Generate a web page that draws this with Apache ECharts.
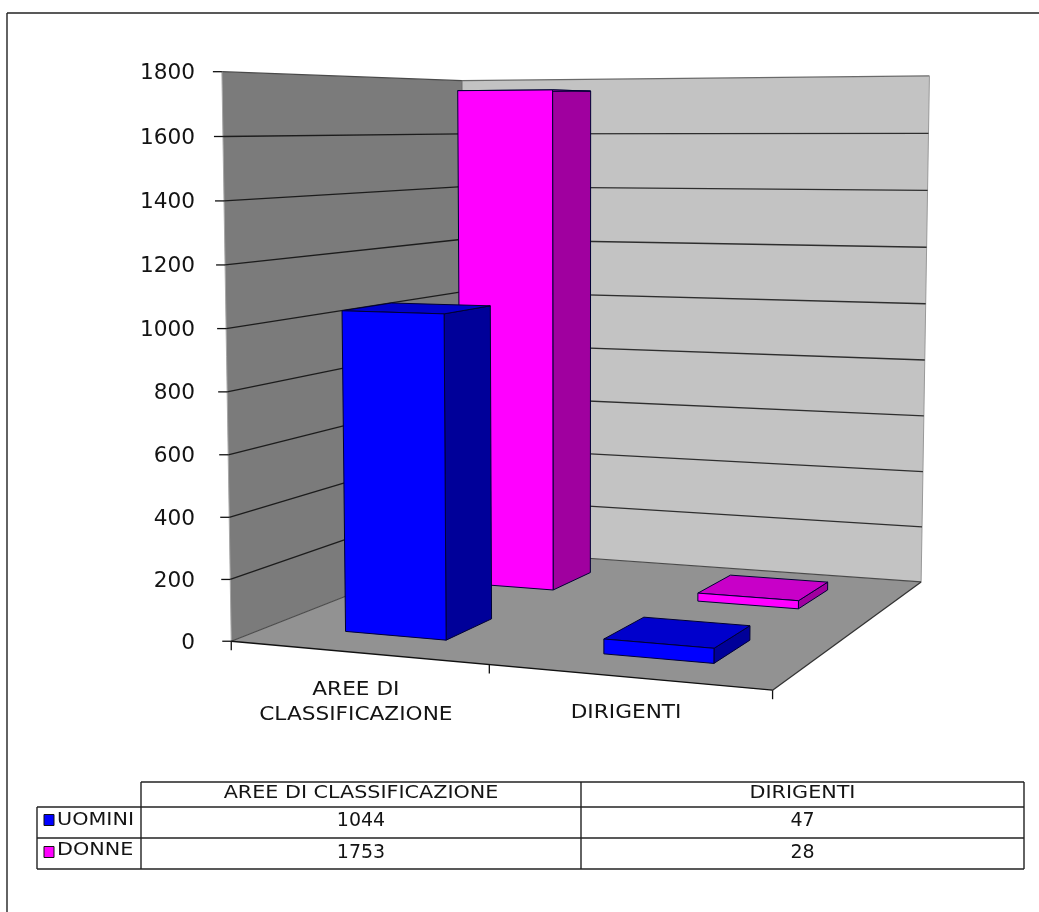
<!DOCTYPE html>
<html>
<head>
<meta charset="utf-8">
<title>Aree di classificazione e dirigenti</title>
<style>html,body{margin:0;padding:0;background:#fff}#chart{width:1039px;height:912px}</style>
<script src="https://cdn.jsdelivr.net/npm/echarts@6/dist/echarts.min.js"></script>
</head>
<body>
<div id="chart"></div>
<script>
// Chart data
const categories = ['AREE DI CLASSIFICAZIONE', 'DIRIGENTI'];
const axisCategoryLabels = ['AREE DI\nCLASSIFICAZIONE', 'DIRIGENTI'];
const uomini = [1044, 47];
const donne = [1753, 28];
const tickValues = [0, 200, 400, 600, 800, 1000, 1200, 1400, 1600, 1800];

// Bar footprint inside each category cell and each depth row (fractions of a cell)
const barStart = 0.3, barEnd = 0.7;
const rowDepth = { UOMINI: 0.25, DONNE: 0.75 };
const barDepth = 0.2;

// Camera calibration of the plotting box: [x, y, z, screenX, screenY]
const cameraAnchors = [
  [0, 0, 0, 232, 642], [0, 1, 0, 221, 71], [1, 0, 0, 772, 690],
  [0, 0, 1, 463, 549], [0, 1, 1, 463, 81], [1, 0, 1, 922, 582], [1, 1, 1, 929, 76],
  [0, 1000 / 1800, 0, 226, 329], [0, 400 / 1800, 0, 230, 517]
];

const FONT = '"DejaVu Sans", Verdana, sans-serif';
const INK = '#141414';
const COLORS = {
  UOMINI: { front: '#0000ff', side: '#000099', top: '#0000cc' },
  DONNE: { front: '#ff00ff', side: '#a0009f', top: '#c800c8' }
};

// Least-squares fit of the 3x4 projective camera (last coefficient fixed at 1)
function fitCamera(anchors) {
  const n = 11, M = Array.from({ length: n }, () => new Array(n + 1).fill(0));
  const add = (row, rhs) => {
    for (let i = 0; i < n; i++) {
      for (let j = 0; j < n; j++) M[i][j] += row[i] * row[j];
      M[i][n] += row[i] * rhs;
    }
  };
  anchors.forEach(([x, y, z, u, v]) => {
    add([x, y, z, 1, 0, 0, 0, 0, -u * x, -u * y, -u * z], u);
    add([0, 0, 0, 0, x, y, z, 1, -v * x, -v * y, -v * z], v);
  });
  for (let c = 0; c < n; c++) {
    let p = c;
    for (let r = c + 1; r < n; r++) if (Math.abs(M[r][c]) > Math.abs(M[p][c])) p = r;
    [M[c], M[p]] = [M[p], M[c]];
    for (let r = 0; r < n; r++) {
      if (r === c) continue;
      const f = M[r][c] / M[c][c];
      for (let k = c; k <= n; k++) M[r][k] -= f * M[c][k];
    }
  }
  return M.map((row, i) => row[n] / row[i]);
}
const cam = fitCamera(cameraAnchors);

const flat = { left: 232, top: 72, width: 540, height: 570 };

// Category position and value go through the grid's axes, then through the camera
function project(api, cat, value, depth) {
  const p = api.coord([cat, value]);
  const x = (p[0] - flat.left) / flat.width;
  const y = (flat.top + flat.height - p[1]) / flat.height;
  const z = depth;
  const w = cam[8] * x + cam[9] * y + cam[10] * z + 1;
  return [
    (cam[0] * x + cam[1] * y + cam[2] * z + cam[3]) / w,
    (cam[4] * x + cam[5] * y + cam[6] * z + cam[7]) / w
  ];
}

const poly = (points, fill, stroke, lineWidth) => ({
  type: 'polygon', shape: { points },
  style: { fill, stroke: stroke || 'none', lineWidth: lineWidth || 1 }, silent: true
});
const line = (a, b, stroke, lineWidth) => ({
  type: 'line', shape: { x1: a[0], y1: a[1], x2: b[0], y2: b[1] },
  style: { stroke, lineWidth: lineWidth || 1, fill: 'none' }, silent: true
});
// Text placed through the element transform so it can be widened horizontally
const label = (text, x, y, size, align, widen) => ({
  type: 'text', silent: true, x, y, scaleX: widen || 1, scaleY: 1,
  style: { text, x: 0, y: 0, fill: INK, font: size + 'px ' + FONT, align: align || 'center', verticalAlign: 'middle', lineHeight: 25 }
});

const yMax = tickValues[tickValues.length - 1];
const xMax = categories.length;

// Walls and floor
function renderBox(params, api) {
  const P = (c, v, z) => project(api, c, v, z);
  const A = P(0, 0, 0), B = P(0, yMax, 0), C = P(0, 0, 1), D = P(0, yMax, 1);
  const E = P(xMax, 0, 0), F = P(xMax, 0, 1), G = P(xMax, yMax, 1);
  return {
    type: 'group',
    children: [
      poly([A, B, D, C], '#7b7b7b'),
      poly([C, D, G, F], '#c3c3c3'),
      poly([A, C, F, E], '#929292'),
      line(B, D, '#4a4a4a', 1.2), line(D, G, '#6a6a6a', 1.2), line(G, F, '#999999'),
      line(B, A, '#a8a8a8'), line(D, C, '#6a6a6a'),
      line(A, C, '#4a4a4a', 1.2), line(C, F, '#4a4a4a', 1.2),
      line(A, E, '#111111', 1.3), line(E, F, '#333333', 1.3)
    ]
  };
}

// One wall gridline, its axis tick and its label per value
function renderGrid(params, api) {
  const v = api.value(0);
  const a = project(api, 0, v, 0), b = project(api, 0, v, 1), c = project(api, xMax, v, 1);
  const children = [];
  if (v > 0 && v < yMax) children.push(line(a, b, '#1c1c1c', 1.3), line(b, c, '#2e2e2e', 1.3));
  children.push(line([a[0] - 9, a[1]], a, '#111111', 1.3));
  children.push(label(String(v), 195, a[1] + 2, 21, 'right', 1.03));
  return { type: 'group', children };
}

// Category ticks under the front floor edge, with their labels
function renderCategory(params, api) {
  const i = api.value(0);
  const children = [];
  const p = project(api, i, 0, 0);
  children.push(line(p, [p[0], p[1] + 9], '#111111', 1.3));
  if (i < xMax) {
    const q = project(api, i + 0.5, 0, 0);
    const text = axisCategoryLabels[i];
    const yCentre = text.indexOf('\n') >= 0 ? 703 : 713;
    children.push(label(text, q[0] - 1.5, yCentre, 19, 'center', 1.14));
  }
  return { type: 'group', children };
}

// A bar: side, top and front faces from the value held in the data
function renderBar(name) {
  return function (params, api) {
    const i = api.value(0), v = api.value(1);
    const x0 = i + barStart, x1 = i + barEnd;
    const z0 = rowDepth[name] - barDepth / 2, z1 = z0 + barDepth;
    const P = (c, val, z) => project(api, c, val, z);
    const col = COLORS[name];
    return {
      type: 'group',
      children: [
        poly([P(x1, 0, z0), P(x1, v, z0), P(x1, v, z1), P(x1, 0, z1)], col.side, '#000033'),
        poly([P(x0, v, z0), P(x0, v, z1), P(x1, v, z1), P(x1, v, z0)], col.top, '#000033'),
        poly([P(x0, 0, z0), P(x0, v, z0), P(x1, v, z0), P(x1, 0, z0)], col.front, '#000033')
      ]
    };
  };
}

// Data table under the plot
const tableX = [37, 141, 581, 1024];
const tableY = [782, 807, 838, 869];
function tableGraphics() {
  const els = [];
  const seg = (x1, y1, x2, y2, stroke) => els.push({
    type: 'line', shape: { x1, y1, x2, y2 }, style: { stroke: stroke || '#222222', lineWidth: 1.4 }, silent: true
  });
  seg(tableX[1], tableY[0], tableX[3], tableY[0]);
  seg(tableX[0], tableY[1], tableX[3], tableY[1]);
  seg(tableX[0], tableY[2], tableX[3], tableY[2]);
  seg(tableX[0], tableY[3], tableX[3], tableY[3]);
  seg(tableX[0], tableY[1], tableX[0], tableY[3]);
  seg(tableX[1], tableY[0], tableX[1], tableY[3]);
  seg(tableX[2], tableY[0], tableX[2], tableY[3]);
  seg(tableX[3], tableY[0], tableX[3], tableY[3]);
  const txt = (text, x, y, size, align, widen) => {
    const el = label(text, x, y, size, align, widen);
    els.push(el);
  };
  categories.forEach((c, i) => txt(c, (tableX[i + 1] + tableX[i + 2]) / 2, 793, 18, 'center', 1.15));
  [['UOMINI', uomini, 821, 820, 820], ['DONNE', donne, 853, 850, 852]].forEach(([name, vals, yv, yn, ys]) => {
    els.push({
      type: 'rect', shape: { x: 44, y: ys - 5.5, width: 10, height: 11 },
      style: { fill: COLORS[name].front, stroke: '#111111', lineWidth: 1 }, silent: true
    });
    txt(name, 57, yn, 18, 'left', 1.15);
    vals.forEach((v, i) => txt(String(v), (tableX[i + 1] + tableX[i + 2]) / 2, yv, 19, 'center', 1));
  });
  // outer chart frame
  els.push({ type: 'line', shape: { x1: 7, y1: 13, x2: 1039, y2: 13 }, style: { stroke: '#222222', lineWidth: 1.4 }, silent: true });
  els.push({ type: 'line', shape: { x1: 7, y1: 13, x2: 7, y2: 912 }, style: { stroke: '#222222', lineWidth: 1.4 }, silent: true });
  return els;
}

const chart = echarts.init(document.getElementById('chart'), null, { renderer: 'canvas' });
chart.setOption({
  animation: false,
  backgroundColor: '#ffffff',
  grid: flat,
  xAxis: { type: 'value', min: 0, max: xMax, show: false },
  yAxis: { type: 'value', min: 0, max: yMax, interval: 200, show: false },
  graphic: tableGraphics(),
  series: [
    { type: 'custom', name: 'box', clip: false, z: 1, renderItem: renderBox, data: [[0]] },
    { type: 'custom', name: 'griglia', clip: false, z: 2, renderItem: renderGrid, data: tickValues.map(v => [v]) },
    { type: 'custom', name: 'categorie', clip: false, z: 2, renderItem: renderCategory, data: [0, 1, 2].map(i => [i]) },
    { type: 'custom', name: 'DONNE', clip: false, z: 3, renderItem: renderBar('DONNE'), data: donne.map((v, i) => [i, v]) },
    { type: 'custom', name: 'UOMINI', clip: false, z: 4, renderItem: renderBar('UOMINI'), data: uomini.map((v, i) => [i, v]) }
  ]
});
</script>
</body>
</html>
